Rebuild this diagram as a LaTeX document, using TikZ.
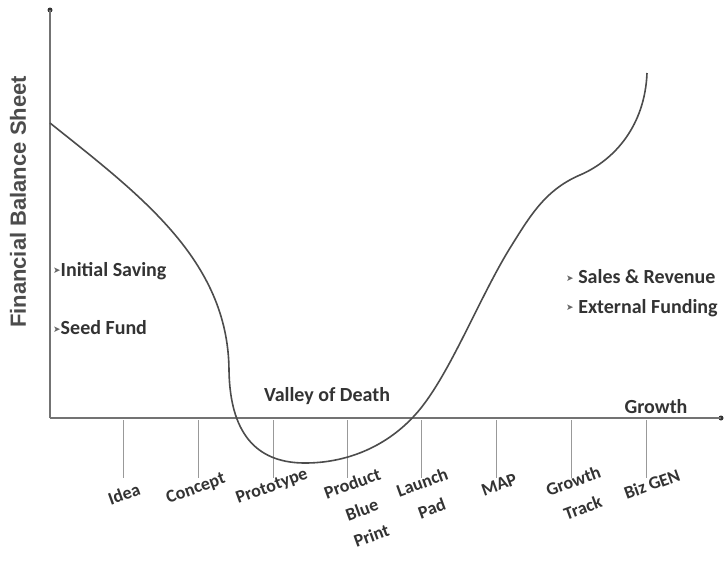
\documentclass[tikz,border=0pt]{standalone}
\usepackage{fontspec}
\setmainfont{Carlito}
\newfontfamily\axisfont{Liberation Sans}
\newfontfamily\symfont{DejaVu Sans}
\begin{document}
\begin{tikzpicture}[x=1pt,y=-1pt,
  axis/.style={draw=black!55, line width=2pt},
  tickline/.style={draw=black!40, line width=0.9pt},
  curve/.style={draw=black!70, line width=1.6pt},
  lbl/.style={font=\bfseries\fontsize{20}{24}\selectfont, text=black!80, inner sep=0pt},
  ticklbl/.style={font=\bfseries\fontsize{18}{28}\selectfont, text=black!80, rotate=20, align=center, inner sep=0pt},
  endpt/.style={circle, fill=black!80, inner sep=0pt, minimum size=5pt}]
\useasboundingbox (0,0) rectangle (725,560);
\fill[white] (0,0) rectangle (725,560);
\newcommand{\bul}{\raisebox{0.25ex}{\symfont\fontsize{9}{10}\selectfont\color{black!60}➤}}
% axes
\coordinate (O) at (50,418);
\node[endpt] (ytop) at (50,10) {};
\node[endpt] (xend) at (721,418) {};
\draw[axis] (O) -- (ytop.center);
\draw[axis] (O) -- (xend.center);
% stage ticks and labels
\foreach \x/\name in {123/t1,198/t2,273/t3,347/t4,421/t5,496/t6,571/t7,646/t8}{
  \coordinate (\name a) at (\x,420);
  \coordinate (\name b) at (\x,478);
  \draw[tickline] (\name a) -- (\name b);
}
\node[ticklbl] (l1) at (124,494) {Idea};
\node[ticklbl] (l2) at (196,489) {Concept};
\node[ticklbl] (l3) at (272,487) {Prototype};
\node[ticklbl, anchor=north] (l4) at (350,477) {Product\\Blue\\Print};
\node[ticklbl, anchor=north] (l5) at (420,476) {Launch\\Pad};
\node[ticklbl, anchor=north] (l6) at (497,479) {MAP};
\node[ticklbl, anchor=north] (l7) at (571,475) {Growth\\Track};
\node[ticklbl] (l8) at (652,484) {Biz GEN};
% financial curve: decline, valley, recovery and growth
\coordinate (c0) at (50,123);
\coordinate (c1) at (229,370);
\coordinate (c2) at (305,463);
\coordinate (c3) at (415,415);
\coordinate (c4) at (510,248);
\coordinate (c5) at (580,175);
\coordinate (c6) at (647,73);
\draw[curve] (c0) .. controls (140,195) and (228,260) .. (c1)
  .. controls (230,440) and (262,463) .. (c2)
  .. controls (345,463) and (385,448) .. (c3)
  .. controls (448,379) and (478,300) .. (c4)
  .. controls (530,216) and (545,190) .. (c5)
  .. controls (615,160) and (645,125) .. (c6);
% texts
\node[font=\axisfont\bfseries\fontsize{22}{26}\selectfont, text=black!70, rotate=90] (ylbl) at (18,202) {Financial Balance Sheet};
\node[lbl, anchor=west] (s1) at (53,271) {\bul Initial Saving};
\node[lbl, anchor=west] (s2) at (53,328) {\bul Seed Fund};
\node[lbl, anchor=west] (s3) at (566,277) {\bul\ Sales \& Revenue};
\node[lbl, anchor=west] (s4) at (566,308) {\bul\ External Funding};
\node[lbl] (vod) at (327,396) {Valley of Death};
\node[lbl] (gr) at (656,407) {Growth};
\end{tikzpicture}
\end{document}
